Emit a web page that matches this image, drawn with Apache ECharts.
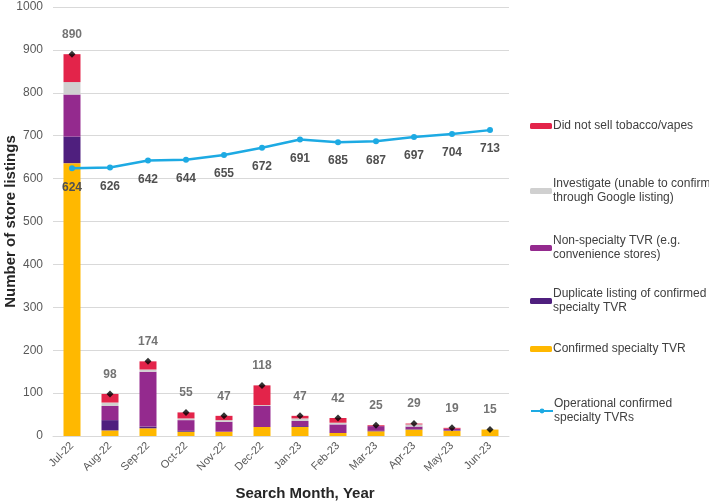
<!DOCTYPE html>
<html><head><meta charset="utf-8">
<script src="https://cdn.jsdelivr.net/npm/echarts@6/dist/echarts.min.js"></script>
<style>html,body{margin:0;padding:0;background:#fff}#c{width:709px;height:501px}</style>
</head><body><div id="c"></div>
<script>
var months = ['Jul-22','Aug-22','Sep-22','Oct-22','Nov-22','Dec-22','Jan-23','Feb-23','Mar-23','Apr-23','May-23','Jun-23'];
var confirmedSpecialty = [636, 13, 18, 10, 10, 21, 21, 7, 11, 15, 12, 15];
var duplicateListing   = [62, 24, 4, 2, 0, 0, 2, 0, 1, 1, 1, 0];
var nonSpecialty       = [98, 33, 128, 25, 23, 49, 12, 20, 11, 6, 4, 0];
var investigate        = [29, 8, 5, 4, 4, 2, 6, 4, 0, 5, 0, 0];
var didNotSell         = [65, 20, 19, 14, 10, 46, 6, 11, 2, 2, 2, 0];
var totals             = [890, 98, 174, 55, 47, 118, 47, 42, 25, 29, 19, 15];
var operational        = [624, 626, 642, 644, 655, 672, 691, 685, 687, 697, 704, 713];
var yTicks = [0, 100, 200, 300, 400, 500, 600, 700, 800, 900, 1000];

var FONT = '"Liberation Sans", Arial, sans-serif';
var chart = echarts.init(document.getElementById('c'));
function bar(name, data, color) {
  return {name: name, type: 'bar', stack: 'a', data: data, barWidth: 17,
    itemStyle: {color: color}, emphasis: {disabled: true}};
}
var legendDefs = [
  {name: 'Did not sell tobacco/vapes', top: 114},
  {name: 'Investigate (unable to confirm\nthrough Google listing)', top: 172},
  {name: 'Non-specialty TVR (e.g.\nconvenience stores)', top: 229},
  {name: 'Duplicate listing of confirmed\nspecialty TVR', top: 282},
  {name: 'Confirmed specialty TVR', top: 337},
  {name: 'Operational confirmed\nspecialty TVRs', top: 392}
];
var legends = legendDefs.map(function(d){
  return {left: 525, top: d.top, orient: 'vertical', itemWidth: 22, itemHeight: 6,
    itemGap: 0, data: [d.name], selectedMode: false,
    textStyle: {fontFamily: FONT, fontSize: 12, color: '#404040', lineHeight: 14, padding: [0,0,0,-4]}};
});
chart.setOption({
  animation: false,
  textStyle: {fontFamily: FONT},
  grid: {left: 53, right: 200, top: 7, bottom: 65, containLabel: false, outerBoundsMode: 'none'},
  legend: legends,
  xAxis: {type: 'category', data: months,
    axisLine: {lineStyle: {color: '#d9d9d9'}}, axisTick: {show: false},
    axisLabel: {rotate: 45, color: '#595959', fontSize: 11, fontFamily: FONT, margin: 8},
    name: 'Search Month, Year', nameLocation: 'middle', nameGap: 50, nameMoveOverlap: false,
    nameTextStyle: {fontWeight: 'bold', fontSize: 15, color: '#262626', fontFamily: FONT,
      padding: [0, 0, 0, 48]}},
  yAxis: {type: 'value', min: yTicks[0], max: yTicks[yTicks.length-1], interval: 100,
    axisLine: {show: false}, axisTick: {show: false},
    splitLine: {lineStyle: {color: '#d9d9d9'}},
    axisLabel: {color: '#595959', fontSize: 12, fontFamily: FONT, margin: 10,
      formatter: function(v){ return String(v); }},
    name: 'Number of store listings', nameLocation: 'middle', nameGap: 35, nameMoveOverlap: false,
    nameTextStyle: {fontWeight: 'bold', fontSize: 15, color: '#262626', fontFamily: FONT}},
  series: [
    bar('Confirmed specialty TVR', confirmedSpecialty, '#FFB800'),
    bar('Duplicate listing of confirmed\nspecialty TVR', duplicateListing, '#4F1F7E'),
    bar('Non-specialty TVR (e.g.\nconvenience stores)', nonSpecialty, '#942A8E'),
    bar('Investigate (unable to confirm\nthrough Google listing)', investigate, '#D0D0D0'),
    bar('Did not sell tobacco/vapes', didNotSell, '#E3244A'),
    {name: 'Totals', type: 'scatter', data: totals, symbol: 'diamond', symbolSize: 7,
      itemStyle: {color: '#000'}, z: 5,
      label: {show: true, position: 'top', distance: 10, fontWeight: 'bold', fontSize: 12,
        color: '#505050', fontFamily: FONT}},
    {name: 'Operational confirmed\nspecialty TVRs', type: 'line', data: operational,
      symbol: 'circle', symbolSize: 6, z: 6,
      lineStyle: {color: '#1DAAE3', width: 2.5}, itemStyle: {color: '#1DAAE3'},
      label: {show: true, position: 'bottom', distance: 10, fontWeight: 'bold', fontSize: 12,
        color: '#505050', fontFamily: FONT}}
  ]
});
</script></body></html>
